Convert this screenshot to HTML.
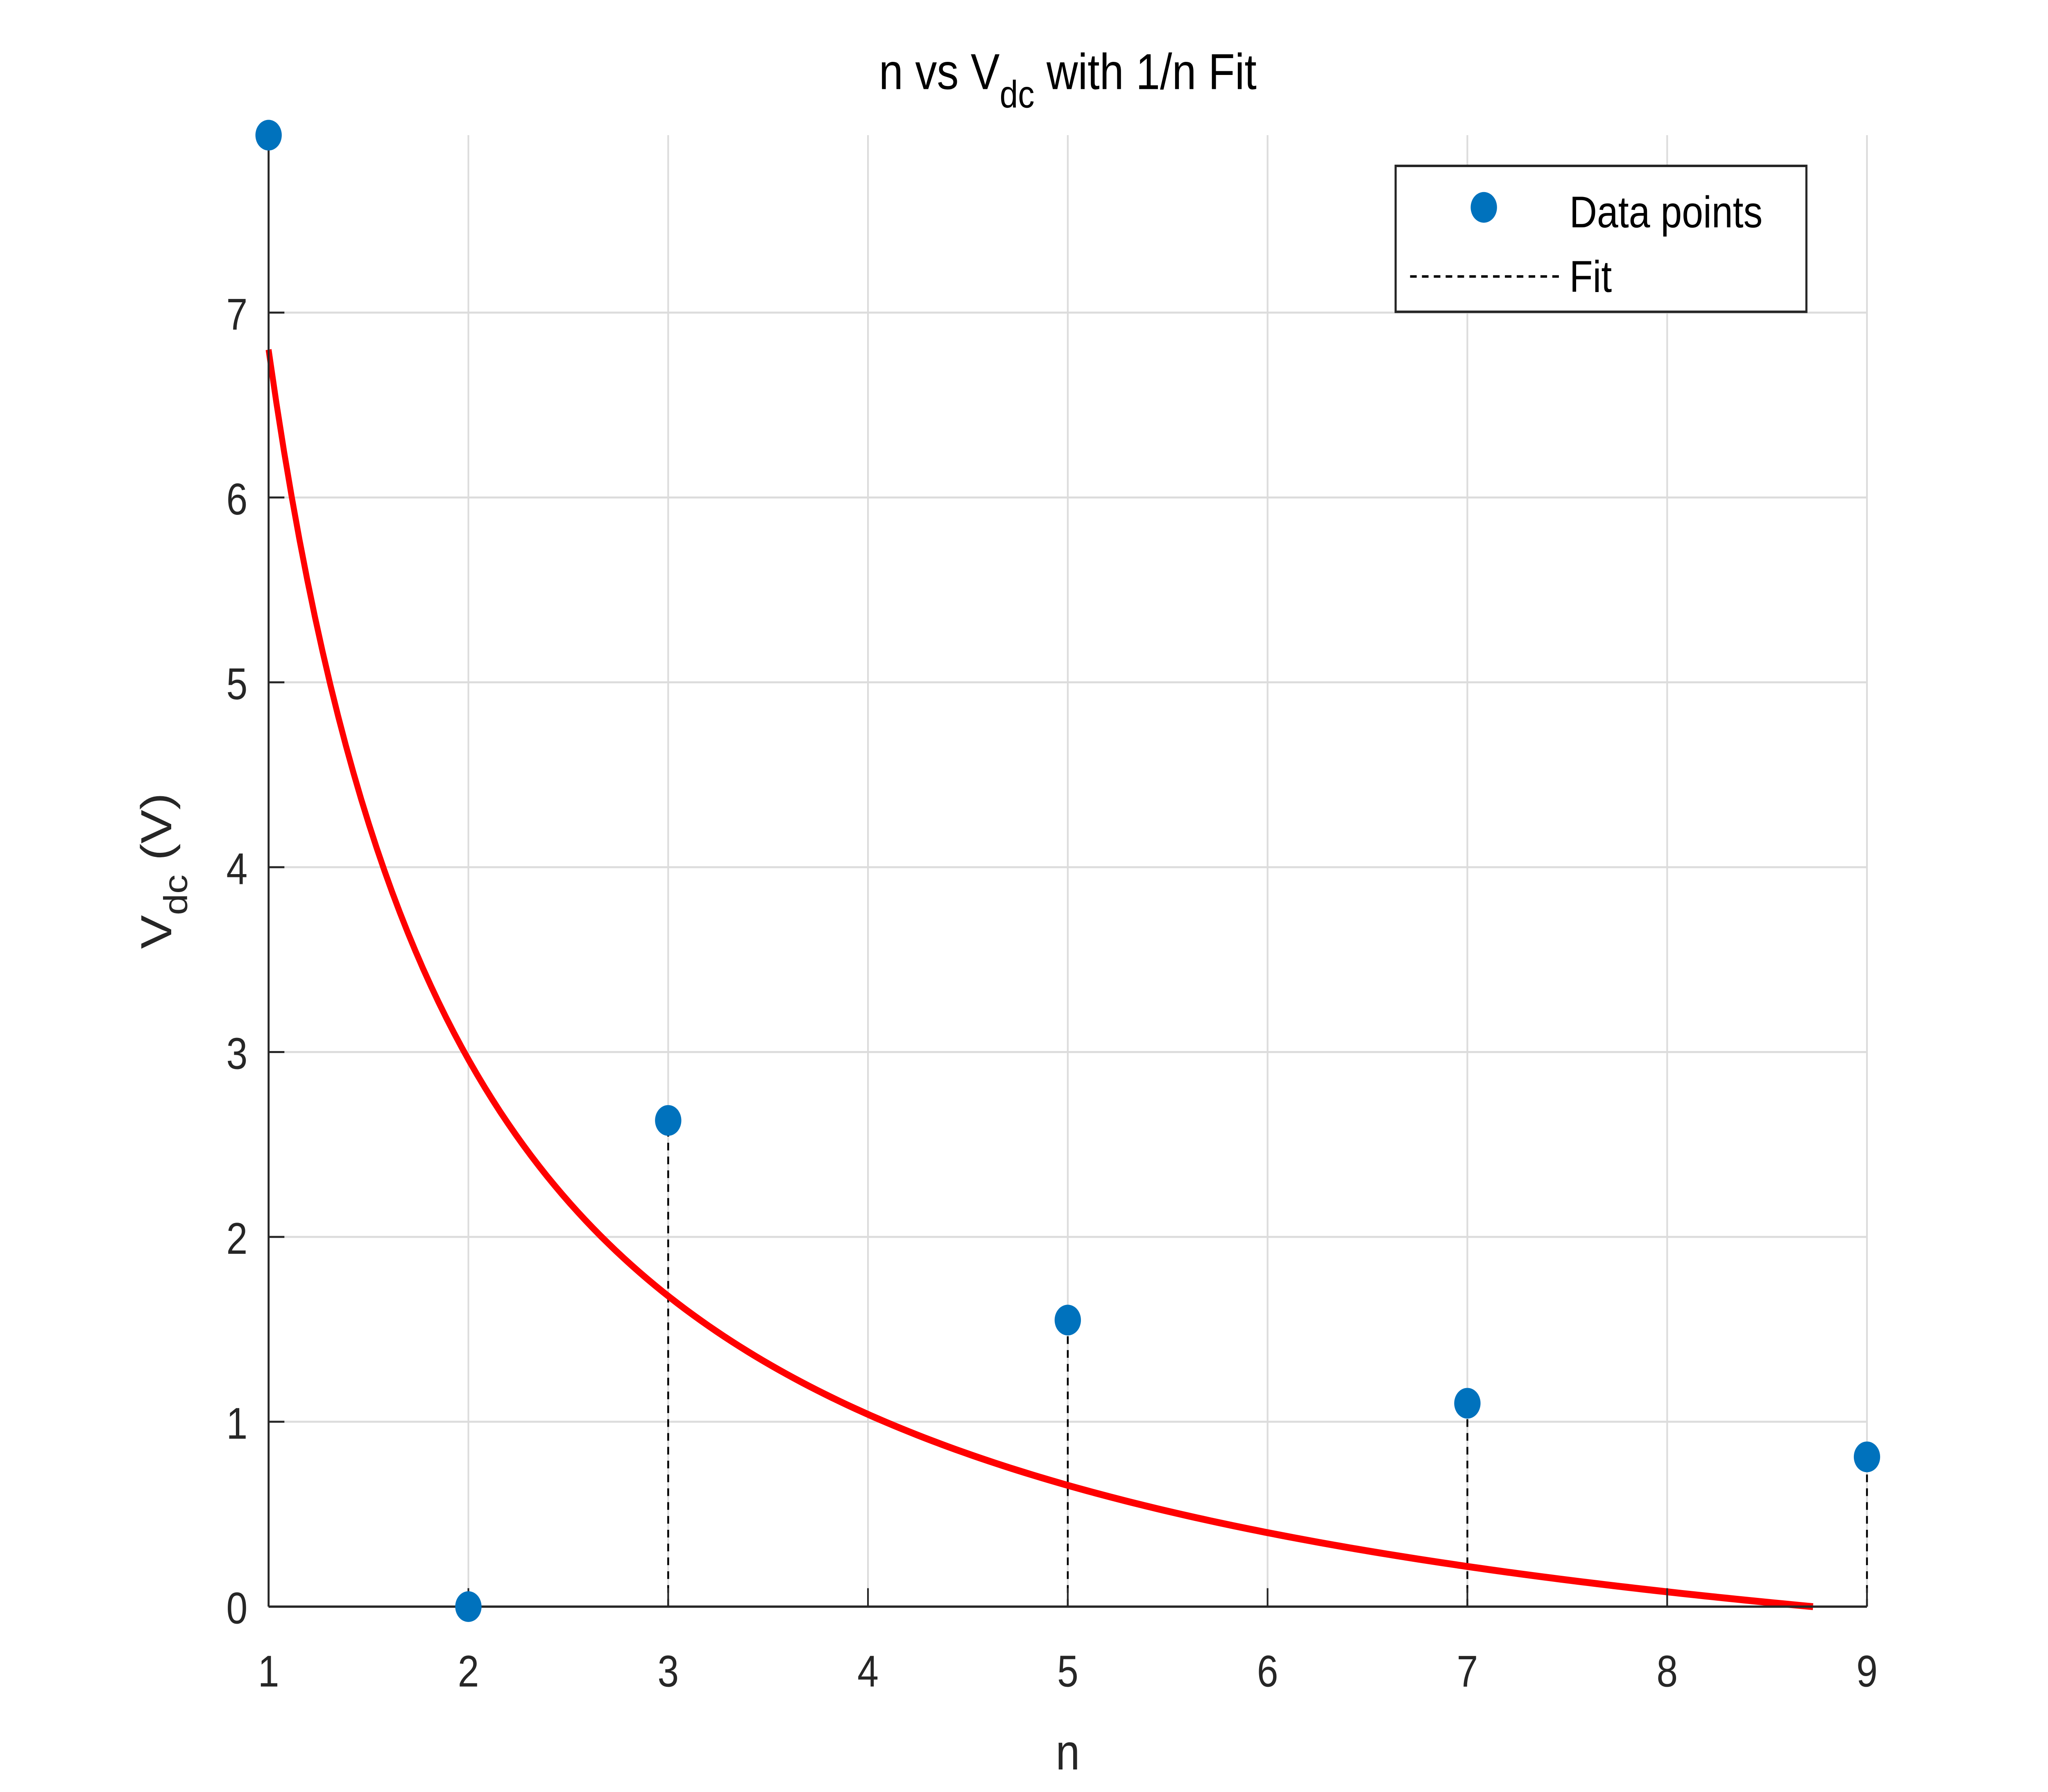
<!DOCTYPE html>
<html><head><meta charset="utf-8"><style>
html,body{margin:0;padding:0;background:#fff;width:100%;height:100%;overflow:hidden;}
svg{display:block;position:absolute;left:0;top:0;width:100vw;height:100vh;font-family:"Liberation Sans",Arial,sans-serif;}
</style></head><body>
<svg id="chart" viewBox="0 0 1555.5 1166.7" preserveAspectRatio="none" xmlns="http://www.w3.org/2000/svg">
<rect width="1555.5" height="1166.7" fill="#fff"/>
<g id="grid"></g>
<g id="stems"></g>
<g id="fit"></g>
<g id="axes"></g>
<g id="points"></g>
<text x="811" y="58" font-size="33" text-anchor="middle" fill="#000">n vs V<tspan font-size="25" dy="12">dc</tspan><tspan dy="-12"> with 1/n Fit</tspan></text>
<text x="811" y="1152" font-size="33" text-anchor="middle" fill="#262626">n</text>
<text transform="translate(130,567) rotate(-90)" font-size="33" text-anchor="middle" fill="#262626">V<tspan font-size="25" dy="12">dc</tspan><tspan dy="-12"> (V)</tspan></text>
<g>
<rect x="1060" y="108" width="312" height="95" fill="#fff" stroke="#262626" stroke-width="1.6"/>
<circle cx="1127" cy="135" r="10" fill="#0072BD"/>
<text x="1192" y="148" font-size="29" fill="#000">Data points</text>
<line x1="1071" y1="180" x2="1187" y2="180" stroke="#000" stroke-width="1.6" stroke-dasharray="5,4"/>
<text x="1192" y="190" font-size="29" fill="#000">Fit</text>
</g>
</svg>
<script>
const nValues = [1, 2, 3, 5, 7, 9];
const vdcValues = [7.96, 0.0, 2.63, 1.55, 1.10, 0.81];
const xTicks = [1, 2, 3, 4, 5, 6, 7, 8, 9];
const yTicks = [0, 1, 2, 3, 4, 5, 6, 7];
const fitA = 7.68;
const fitB = -0.88;
const fitRange = [1, 8.73];

const NS = "http://www.w3.org/2000/svg";
const L = 204, R = 1418, T = 88, B = 1046;
const xMin = 1, xMax = 9, yMin = 0, yMax = 7.96;
const sx = v => L + (v - xMin) / (xMax - xMin) * (R - L);
const sy = v => B - (v - yMin) / (yMax - yMin) * (B - T);
function mk(tag, attrs, parent) {
  const e = document.createElementNS(NS, tag);
  for (const k in attrs) e.setAttribute(k, attrs[k]);
  parent.appendChild(e);
  return e;
}
const grid = document.getElementById('grid');
const axes = document.getElementById('axes');
xTicks.forEach(t => {
  const g = mk('line', {x1: sx(t), x2: sx(t), y1: T, y2: B, stroke: '#dcdcdc', 'stroke-width': 1.3}, grid);
  
  
  const tk = mk('line', {x1: sx(t), x2: sx(t), y1: B, y2: B - 12, stroke: '#262626', 'stroke-width': 1.3}, axes);
  
  
  const lb = mk('text', {x: sx(t), y: B + 52, 'font-size': 29, 'text-anchor': 'middle', fill: '#262626'}, axes);
  lb.textContent = t;
  
  
});
yTicks.forEach(t => {
  const g = mk('line', {x1: L, x2: R, y1: sy(t), y2: sy(t), stroke: '#dcdcdc', 'stroke-width': 1.3}, grid);
  
  
  const tk = mk('line', {x1: L, x2: L + 12, y1: sy(t), y2: sy(t), stroke: '#262626', 'stroke-width': 1.3}, axes);
  
  
  const lb = mk('text', {x: L - 16, y: sy(t) + 11, 'font-size': 29, 'text-anchor': 'end', fill: '#262626'}, axes);
  lb.textContent = t;
  
  
});
const xa = mk('line', {x1: L, x2: R, y1: B, y2: B, stroke: '#262626', 'stroke-width': 1.5}, axes);


const ya = mk('line', {x1: L, x2: L, y1: T, y2: B, stroke: '#262626', 'stroke-width': 1.5}, axes);



const stems = document.getElementById('stems');
const pts = document.getElementById('points');
nValues.forEach((n, i) => {
  const s = mk('line', {x1: sx(n), x2: sx(n), y1: sy(0), y2: sy(vdcValues[i]), stroke: '#000', 'stroke-width': 1.4, 'stroke-dasharray': '5,4'}, stems);
  
  
  const c = mk('circle', {cx: sx(n), cy: sy(vdcValues[i]), r: 10, fill: '#0072BD'}, pts);
  
  
});

let d = '';
const N = 200;
for (let i = 0; i <= N; i++) {
  const n = fitRange[0] + (fitRange[1] - fitRange[0]) * i / N;
  const v = fitA / n + fitB;
  d += (i ? 'L' : 'M') + sx(n).toFixed(2) + ',' + sy(v).toFixed(2);
}
const p = mk('path', {d: d, fill: 'none', stroke: '#ff0000', 'stroke-width': 4.5}, document.getElementById('fit'));


</script>
</body></html>
